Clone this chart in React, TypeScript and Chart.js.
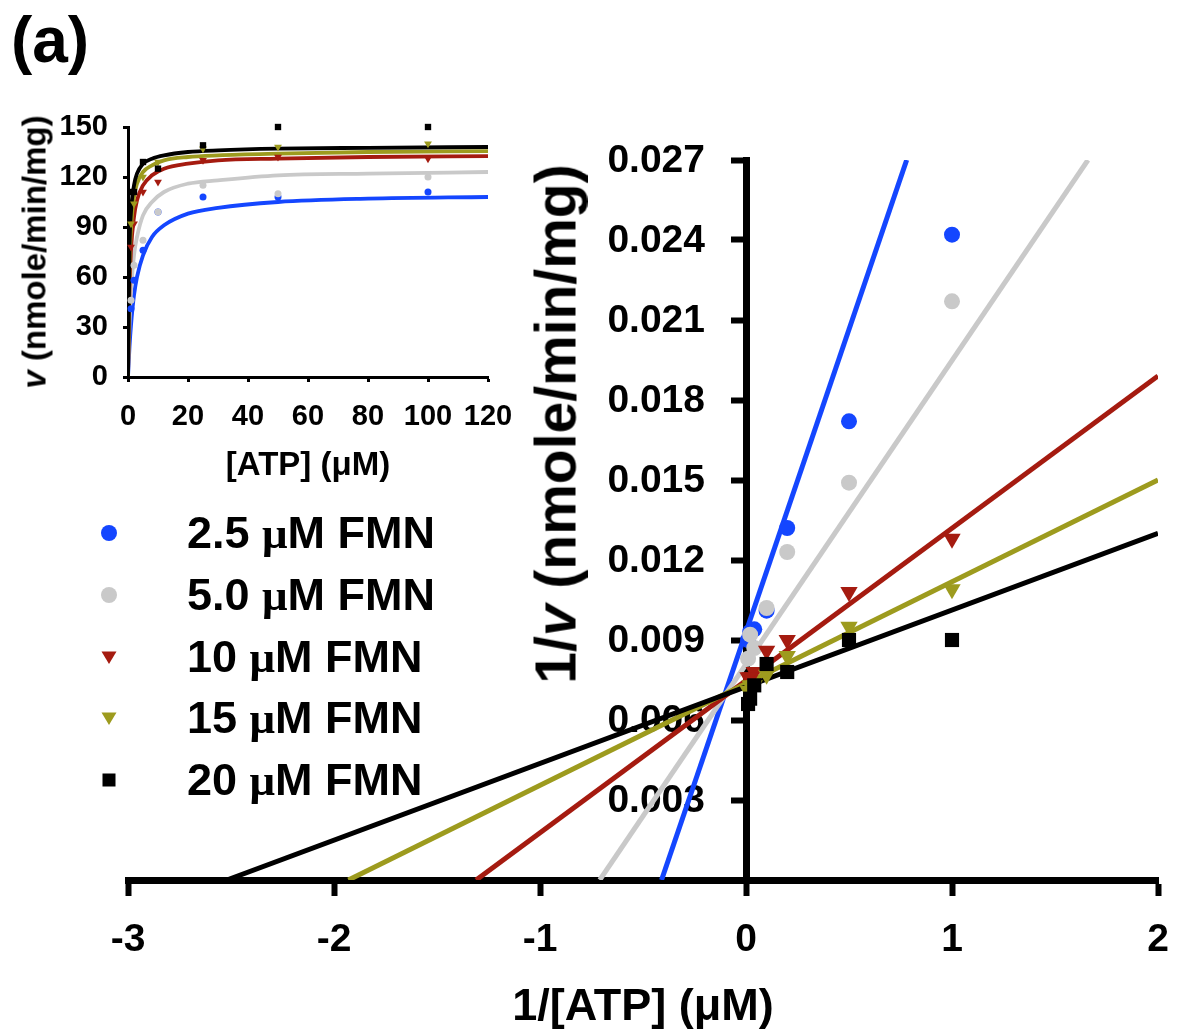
import React, { useEffect, useRef } from "react";
import { Chart, registerables } from "chart.js";

Chart.register(...registerables);

const W = 1181;
const H = 1033;
const SANS = "'Liberation Sans', Arial, Helvetica, sans-serif";
const SERIF = "'Liberation Serif', 'Times New Roman', serif";

// ---------- series ----------
const seriesNames = ["2.5 ", "5.0 ", "10 ", "15 ", "20 "];
const seriesColors = ["#1446ff", "#c9c9c9", "#a51b10", "#9d9b1e", "#000000"];
const seriesMarkers = ["circle", "circle", "triangle", "triangle", "rect"];

// ---------- Lineweaver–Burk (main) ----------
const invAtp = [1, 0.5, 0.2, 0.1, 0.04, 0.02, 0.01];
const invV25 = [0.0242, 0.0172, 0.0132, 0.0101, 0.0094, 0.0093, 0.009];
const invV50 = [0.0217, 0.0149, 0.0123, 0.0102, 0.0087, 0.0092, 0.0083];
const invV10 = [0.0128, 0.0108, 0.009, 0.0086, 0.0078, 0.0076, 0.0076];
const invV15 = [0.0109, 0.0095, 0.0084, 0.0077, 0.0073, 0.0073, 0.0071];
const invV20 = [0.009, 0.009, 0.0078, 0.0081, 0.0073, 0.0068, 0.0066];

// fitted lines (end points)
const fitX25 = [-0.41, 0.78];
const fitY25 = [0, 0.027];
const fitX50 = [-0.71, 1.66];
const fitY50 = [0, 0.027];
const fitX10 = [-1.31, 2];
const fitY10 = [0, 0.0189];
const fitX15 = [-1.93, 2];
const fitY15 = [0, 0.015];
const fitX20 = [-2.52, 2];
const fitY20 = [0, 0.013];

const mainXTicks = [-3, -2, -1, 0, 1, 2];
const mainXLabels = ["-3", "-2", "-1", "0", "1", "2"];
const mainYTicks = [0, 0.003, 0.006, 0.009, 0.012, 0.015, 0.018, 0.021, 0.024, 0.027];
const mainYLabels = ["", "0.003", "0.006", "0.009", "0.012", "0.015", "0.018", "0.021", "0.024", "0.027"];

// ---------- Michaelis–Menten (inset) ----------
const atp = [1, 2, 5, 10, 25, 50, 100];
const v25 = [41, 58, 76, 99, 108, 108, 111];
const v50 = [46, 67, 82, 99, 115, 110, 120];
const v10 = [78, 92, 111, 117, 130, 132, 131];
const v15 = [92, 104, 120, 129, 137, 138, 140];
const v20 = [111, 111, 129, 125, 139, 150, 150];

const curveAtp = [0, 0.5, 1, 2, 3, 5, 8, 12, 20, 30, 50, 80, 120];
const curve25 = [0, 18, 31, 49, 60, 73, 84, 91, 98, 101.5, 105, 107, 108];
const curve50 = [0, 32, 51, 73, 84, 97, 105, 111, 116, 118, 121, 122, 123];
const curve10 = [0, 53, 76, 96, 106, 115, 121, 125, 128, 130, 131, 132, 132.5];
const curve15 = [0, 67, 89, 108, 116, 123, 127, 130, 132, 133, 134, 135, 135.5];
const curve20 = [0, 77, 99, 115, 122, 128, 131, 133, 135, 136, 137, 137.5, 138];

const insetXTicks = [0, 20, 40, 60, 80, 100, 120];
const insetXLabels = ["0", "20", "40", "60", "80", "100", "120"];
const insetYTicks = [0, 30, 60, 90, 120, 150];
const insetYLabels = ["0", "30", "60", "90", "120", "150"];

// ---------- helpers ----------
const zip = (xs: number[], ys: number[]) => xs.map((x, i) => ({ x, y: ys[i] }));

const mainPoints = [invV25, invV50, invV10, invV15, invV20];
const mainFitX = [fitX25, fitX50, fitX10, fitX15, fitX20];
const mainFitY = [fitY25, fitY50, fitY10, fitY15, fitY20];
const insetPoints = [v25, v50, v10, v15, v20];
const insetCurves = [curve25, curve50, curve10, curve15, curve20];

const mainRadius = [8, 8, 10, 10, 10];
const insetRadius = [3.5, 3.5, 4.5, 4.5, 4.5];

const mainLabelPlugin = {
  id: "mainLabels",
  beforeDatasetsDraw(chart: any) {
    const { ctx } = chart;
    const xs = chart.scales.x;
    const ys = chart.scales.y;
    const x0 = xs.getPixelForValue(0);
    const y0 = ys.getPixelForValue(0);
    ctx.save();
    ctx.fillStyle = "#000";
    ctx.font = `bold 39px ${SANS}`;
    ctx.textAlign = "right";
    ctx.textBaseline = "middle";
    mainYTicks.forEach((v, i) => {
      if (mainYLabels[i]) ctx.fillText(mainYLabels[i], x0 - 41, ys.getPixelForValue(v) + 1);
    });
    ctx.textAlign = "center";
    mainXTicks.forEach((v, i) => {
      ctx.fillText(mainXLabels[i], xs.getPixelForValue(v), y0 + 60);
    });
    ctx.restore();
  },
};

function Txt(props: any) {
  const { x, y, size, children, rotate, left } = props;
  const transform = left
    ? "translate(0,-50%)"
    : `translate(-50%,-50%)${rotate ? " rotate(-90deg)" : ""}`;
  return (
    <div
      style={{
        position: "absolute",
        left: x,
        top: y,
        transform,
        fontFamily: SANS,
        fontWeight: "bold",
        fontSize: size,
        lineHeight: 1,
        whiteSpace: "nowrap",
        color: "#000",
      }}
    >
      {children}
    </div>
  );
}

function Marker({ kind, color }: { kind: string; color: string }) {
  return (
    <svg width={20} height={20} viewBox="0 0 20 20" style={{ display: "block" }}>
      {kind === "circle" && <circle cx={10} cy={10} r={8} fill={color} />}
      {kind === "triangle" && <polygon points="2.5,4.5 17.5,4.5 10,17" fill={color} />}
      {kind === "rect" && <rect x={3.5} y={3.5} width={13} height={13} fill={color} />}
    </svg>
  );
}

export default function App() {
  const mainRef = useRef<HTMLCanvasElement>(null);
  const insetRef = useRef<HTMLCanvasElement>(null);

  useEffect(() => {
    const lineSets = mainFitX.map((fx, i) => ({
      data: zip(fx, mainFitY[i]),
      showLine: true,
      borderColor: seriesColors[i],
      backgroundColor: seriesColors[i],
      borderWidth: 5,
      pointRadius: 0,
      order: 10 - i,
    }));
    const pointSets = mainPoints.map((ys, i) => ({
      data: zip(invAtp, ys),
      showLine: false,
      clip: false,
      pointStyle: seriesMarkers[i],
      pointRotation: seriesMarkers[i] === "triangle" ? 180 : 0,
      pointRadius: mainRadius[i],
      backgroundColor: seriesColors[i],
      borderColor: seriesColors[i],
      borderWidth: 0,
      order: -i,
    }));
    const axisCommon = {
      type: "linear",
      ticks: { display: false },
      grid: { drawOnChartArea: false, drawTicks: true, tickLength: 12, tickWidth: 6, tickColor: "#000" },
      border: { display: true, color: "#000", width: 7 },
    };
    const main = new Chart(mainRef.current as HTMLCanvasElement, {
      type: "scatter",
      data: { datasets: [...lineSets, ...pointSets] as any },
      options: {
        animation: false,
        responsive: false,
        events: [],
        layout: { padding: { left: 128, right: W - 1158, top: 160, bottom: H - 880 } },
        plugins: { legend: { display: false }, tooltip: { enabled: false } },
        scales: {
          x: {
            ...axisCommon,
            position: { y: 0 },
            min: -3,
            max: 2,
            afterBuildTicks: (s: any) => {
              s.ticks = mainXTicks.map((value) => ({ value }));
            },
          },
          y: {
            ...axisCommon,
            position: { x: 0 },
            min: 0,
            max: 0.027,
            afterBuildTicks: (s: any) => {
              s.ticks = mainYTicks.map((value) => ({ value }));
            },
          },
        } as any,
      },
      plugins: [mainLabelPlugin],
    });

    const curveSets = insetCurves.map((cv, i) => ({
      data: zip(curveAtp, cv),
      showLine: true,
      cubicInterpolationMode: "monotone",
      borderColor: seriesColors[i],
      backgroundColor: seriesColors[i],
      borderWidth: 3.8,
      pointRadius: 0,
      order: 10 - i,
    }));
    const insetPointSets = insetPoints.map((vs, i) => ({
      data: zip(atp, vs),
      showLine: false,
      clip: false,
      pointStyle: seriesMarkers[i],
      pointRotation: seriesMarkers[i] === "triangle" ? 180 : 0,
      pointRadius: insetRadius[i],
      backgroundColor: seriesColors[i],
      borderColor: seriesColors[i],
      borderWidth: 0,
      order: -i,
    }));
    const tickFont = { family: SANS, size: 29, weight: "bold" };
    const inset = new Chart(insetRef.current as HTMLCanvasElement, {
      type: "scatter",
      data: { datasets: [...curveSets, ...insetPointSets] as any },
      options: {
        animation: false,
        responsive: false,
        events: [],
        layout: { padding: { left: 128 - 100, right: W - 488, top: 127, bottom: H - 377 - 80 } },
        plugins: { legend: { display: false }, tooltip: { enabled: false } },
        scales: {
          x: {
            type: "linear",
            position: "bottom",
            min: 0,
            max: 120,
            afterBuildTicks: (s: any) => {
              s.ticks = insetXTicks.map((value) => ({ value }));
            },
            afterFit: (s: any) => {
              s.height = 80;
            },
            ticks: {
              font: tickFont,
              color: "#000",
              padding: 18,
              maxRotation: 0,
              autoSkip: false,
              callback: (_v: any, i: number) => insetXLabels[i],
            },
            grid: { drawOnChartArea: false, tickLength: 5, tickWidth: 3, tickColor: "#000" },
            border: { color: "#000", width: 3 },
          },
          y: {
            type: "linear",
            position: "left",
            min: 0,
            max: 150,
            afterBuildTicks: (s: any) => {
              s.ticks = insetYTicks.map((value) => ({ value }));
            },
            afterFit: (s: any) => {
              s.width = 100;
            },
            ticks: {
              font: tickFont,
              color: "#000",
              padding: 15,
              autoSkip: false,
              callback: (_v: any, i: number) => insetYLabels[i],
            },
            grid: { drawOnChartArea: false, tickLength: 5, tickWidth: 3, tickColor: "#000" },
            border: { color: "#000", width: 3 },
          },
        } as any,
      },
    });

    return () => {
      main.destroy();
      inset.destroy();
    };
  }, []);

  const legendY = [533, 595, 657, 718, 780];

  return (
    <div
      style={{
        position: "absolute",
        left: 0,
        top: 0,
        width: W,
        height: H,
        overflow: "hidden",
        background: "#fff",
      }}
    >
      <canvas ref={mainRef} width={W} height={H} style={{ position: "absolute", left: 0, top: 0 }} />
      <canvas ref={insetRef} width={W} height={H} style={{ position: "absolute", left: 0, top: 0 }} />

      <Txt x={50} y={40} size={64}>(a)</Txt>

      <Txt x={556} y={424} size={57} rotate>
        1/<i>v</i> (nmole/min/mg)
      </Txt>
      <Txt x={643} y={1004} size={45}>1/[ATP] (μM)</Txt>

      <Txt x={34} y={252} size={33} rotate>
        <i>v</i> (nmole/min/mg)
      </Txt>
      <Txt x={308} y={463} size={33}>[ATP] (μM)</Txt>

      {seriesNames.map((name, i) => (
        <React.Fragment key={i}>
          <div style={{ position: "absolute", left: 99, top: legendY[i] - 10 }}>
            <Marker kind={seriesMarkers[i]} color={seriesColors[i]} />
          </div>
          <Txt x={187} y={legendY[i]} size={45} left>
            {name}
            <span style={{ fontFamily: SERIF }}>μ</span>M FMN
          </Txt>
        </React.Fragment>
      ))}
    </div>
  );
}
